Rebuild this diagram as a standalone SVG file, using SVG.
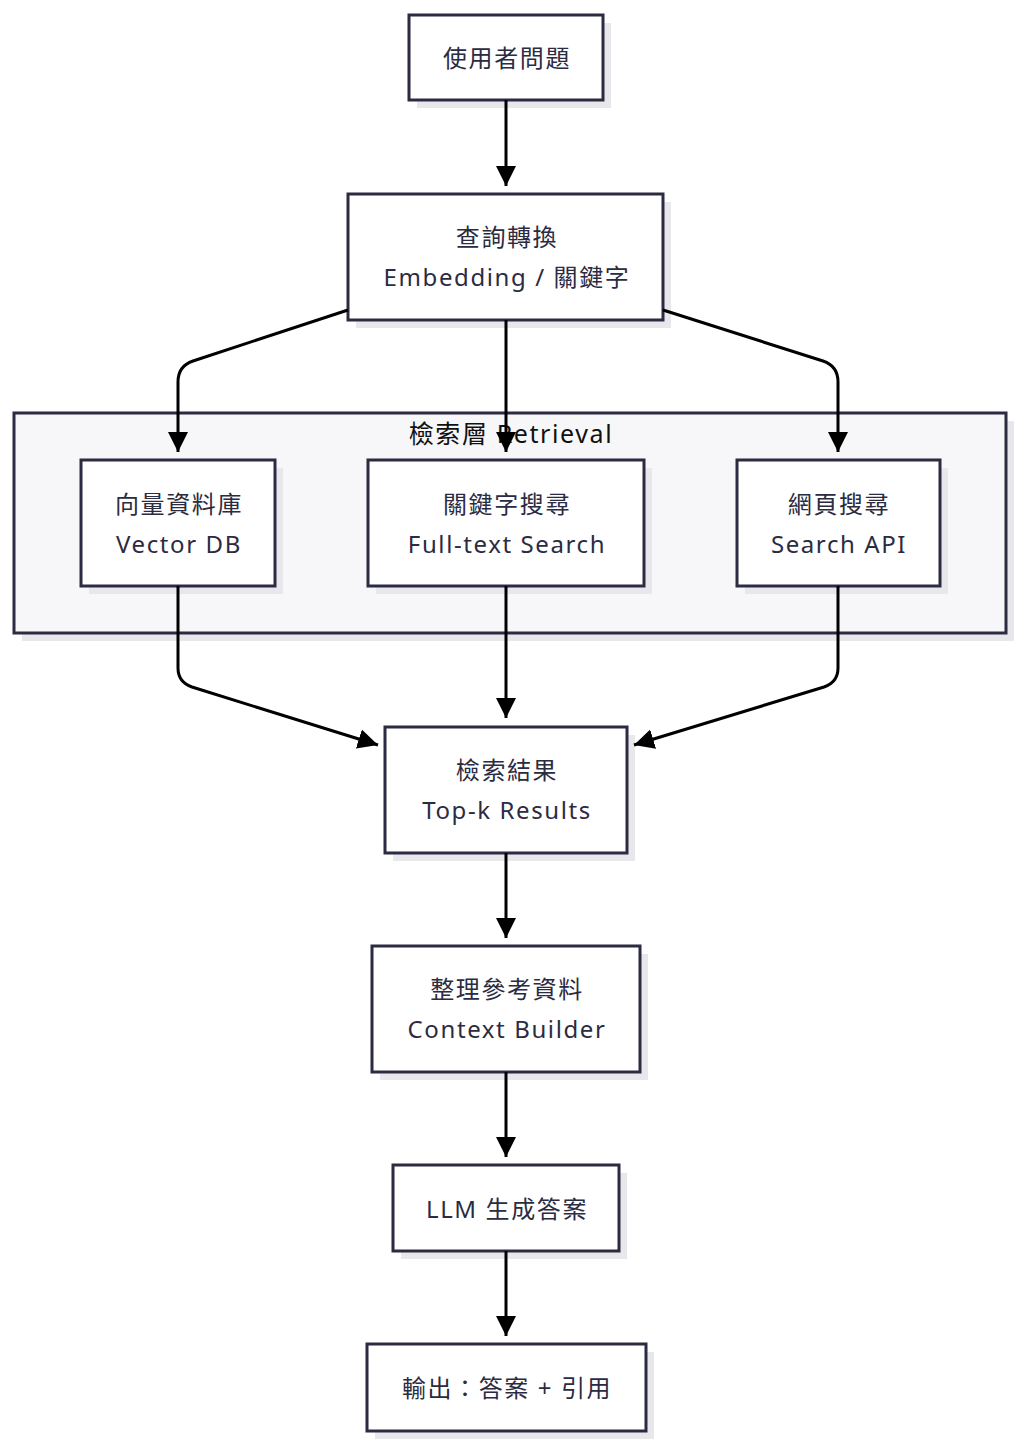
<svg xmlns="http://www.w3.org/2000/svg" width="1024" height="1450" viewBox="0 0 1024 1450">
<style>
.node rect.box{fill:#ffffff;stroke:#2b2b42;stroke-width:3}
.shadow{fill:#e8e8ec}
.cluster rect.box{fill:#f7f7f9;stroke:#2b2b42;stroke-width:3}
text{font-family:"Noto Sans","Noto Sans CJK TC",sans-serif;font-size:24px;letter-spacing:1.6px;fill:#2b2b42;text-anchor:middle;dominant-baseline:central}
.clabel{fill:#111111;font-size:25px}
.edge{fill:none;stroke:#000000;stroke-width:3;marker-end:url(#arrow)}
</style>
<defs>
<marker id="arrow" viewBox="0 0 10 10" refX="10" refY="5" markerUnits="userSpaceOnUse" markerWidth="20" markerHeight="22" orient="auto">
<path d="M0,0 L10,5 L0,10 z" fill="#000000"/>
</marker>
</defs>
<rect width="1024" height="1450" fill="#ffffff"/>
<g id="cluster-retrieval" class="cluster">
<rect class="shadow" x="22" y="421" width="992" height="220"/>
<rect class="box" x="14" y="413" width="992" height="220"/>
<text class="clabel" x="511" y="433">檢索層 Retrieval</text>
</g>
<g id="n-question" class="node">
<rect class="shadow" x="417" y="23" width="194" height="85"/>
<rect class="box" x="409" y="15" width="194" height="85"/>
<text x="507" y="57">使用者問題</text>
</g>
<g id="n-transform" class="node">
<rect class="shadow" x="356" y="202" width="315" height="126"/>
<rect class="box" x="348" y="194" width="315" height="126"/>
<text x="507" y="236">查詢轉換</text>
<text x="507" y="276">Embedding / 關鍵字</text>
</g>
<g id="n-vector" class="node">
<rect class="shadow" x="89" y="468" width="194" height="126"/>
<rect class="box" x="81" y="460" width="194" height="126"/>
<text x="179" y="503">向量資料庫</text>
<text x="179" y="543">Vector DB</text>
</g>
<g id="n-fulltext" class="node">
<rect class="shadow" x="376" y="468" width="276" height="126"/>
<rect class="box" x="368" y="460" width="276" height="126"/>
<text x="507" y="503">關鍵字搜尋</text>
<text x="507" y="543">Full-text Search</text>
</g>
<g id="n-web" class="node">
<rect class="shadow" x="745" y="468" width="203" height="126"/>
<rect class="box" x="737" y="460" width="203" height="126"/>
<text x="839" y="503">網頁搜尋</text>
<text x="839" y="543">Search API</text>
</g>
<g id="n-results" class="node">
<rect class="shadow" x="393" y="735" width="242" height="126"/>
<rect class="box" x="385" y="727" width="242" height="126"/>
<text x="507" y="769">檢索結果</text>
<text x="507" y="809">Top-k Results</text>
</g>
<g id="n-context" class="node">
<rect class="shadow" x="380" y="954" width="268" height="126"/>
<rect class="box" x="372" y="946" width="268" height="126"/>
<text x="507" y="988">整理參考資料</text>
<text x="507" y="1028">Context Builder</text>
</g>
<g id="n-llm" class="node">
<rect class="shadow" x="401" y="1173" width="226" height="86"/>
<rect class="box" x="393" y="1165" width="226" height="86"/>
<text x="507" y="1208">LLM 生成答案</text>
</g>
<g id="n-output" class="node">
<rect class="shadow" x="375" y="1352" width="279" height="87"/>
<rect class="box" x="367" y="1344" width="279" height="87"/>
<text x="507" y="1387">輸出：答案 + 引用</text>
</g>
<g id="connectors">
<path class="edge" d="M506,100 L506,186"/>
<path class="edge" d="M348,310 L193,361 Q178,366 178,382 L178,452"/>
<path class="edge" d="M506,320 L506,452"/>
<path class="edge" d="M663,310 L823,361 Q838,366 838,382 L838,452"/>
<path class="edge" d="M178,586 L178,668 Q178,682 192,687 L378,745"/>
<path class="edge" d="M506,586 L506,718"/>
<path class="edge" d="M838,586 L838,668 Q838,682 824,687 L634,745"/>
<path class="edge" d="M506,853 L506,938"/>
<path class="edge" d="M506,1072 L506,1157"/>
<path class="edge" d="M506,1251 L506,1336"/>
</g>
</svg>
